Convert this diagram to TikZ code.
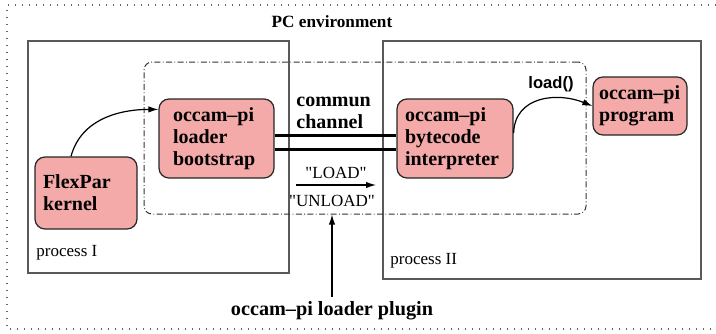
\documentclass[tikz,border=0pt]{standalone}
\usepackage{fontspec}
\setmainfont{Liberation Serif}[Ligatures=TeXOff]
\newfontfamily\sansfam{Liberation Sans}
\usetikzlibrary{arrows.meta}
\definecolor{boxpink}{RGB}{244,170,168}
\tikzset{
  unit/.style={draw=black!85, line width=0.6pt, fill=boxpink, rounded corners=5pt,
    align=left, inner ysep=2pt, font=\fontsize{10}{11}\selectfont\bfseries},
  procbox/.style={draw=black!65, line width=0.7pt},
  tip/.style={-{Latex[length=5pt,width=3.2pt]}, line width=0.6pt},
  lbl/.style={font=\fontsize{8.5}{10}\selectfont, inner sep=0pt},
  chan/.style={line width=1.5pt}
}
\begin{document}
\begin{tikzpicture}[x=0.5pt,y=-0.5pt]
\useasboundingbox (0,0) rectangle (716,333);

% outer environment frame (dotted)
\draw[black!60, line width=0.6pt, dash pattern=on 0.5pt off 3pt]
  (716,5) -- (7,5) -- (7,329) -- (716,329);
\node[font=\fontsize{8.6}{10}\selectfont\bfseries, anchor=base, inner sep=0pt] (env) at (332,27) {PC environment};

% the two processes
\draw[procbox] (28,41) rectangle (289,273);
\draw[procbox] (383,41) rectangle (701,279);
\node[lbl, anchor=base west] (p1) at (36,256) {process I};
\node[lbl, anchor=base west] (p2) at (390,264) {process II};

% loader plugin region (dash-dot)
\node[draw=black!80, line width=0.5pt, rounded corners=4pt,
      dash pattern=on 3pt off 1.2pt on 0.4pt off 1.2pt,
      minimum width=221pt, minimum height=76pt, inner sep=0pt] (plug) at (365,138) {};

% units
\node[unit, inner xsep=4pt, text width=43pt, minimum width=51pt, minimum height=36pt] (flex) at (86,193) {FlexPar\\kernel};
\node[unit, inner xsep=7pt, text width=43.5pt, minimum width=57.5pt, minimum height=39.5pt] (boot) at (216.5,138.5) {occam–pi\\loader\\bootstrap};
\node[unit, inner xsep=4pt, text width=50pt, minimum width=58pt, minimum height=39.5pt] (interp) at (455,138.5) {occam–pi\\bytecode\\interpreter};
\node[unit, inner xsep=3pt, text width=41pt, minimum width=47pt, minimum height=29pt] (prog) at (640,106) {occam–pi\\program};

% communication channel
\draw[chan] ([yshift=1.75pt]boot.east) -- ([yshift=1.75pt]interp.west);
\draw[chan] ([yshift=-5.25pt]boot.east) -- ([yshift=-5.25pt]interp.west);
\node[font=\fontsize{10}{11}\selectfont\bfseries, align=left, anchor=base west, inner sep=0pt] (chlbl) at (296,128) {commun\\channel};

% LOAD / UNLOAD messages
\coordinate (ls) at (296,185);
\coordinate (le) at (376,185);
\draw[tip] (ls) -- (le)
  node[lbl, midway, above=3pt] (ld) {"LOAD"}
  node[lbl, midway, below=5pt, xshift=-2pt] (uld) {"UNLOAD"};

% bootstrap and load() transitions
\draw[tip] ([xshift=-7.5pt]flex.north) to[out=75, in=180] ([yshift=-5.5pt]boot.north west);
\draw[tip] ([yshift=2.75pt]interp.east) to[out=88, in=158, looseness=1.15] (prog.west);
\node[font=\sansfam\fontsize{8.3}{10}\selectfont\bfseries, inner sep=0pt] (ldcall) at (551,84) {load()};

% plugin label
\node[font=\fontsize{10.1}{12}\selectfont\bfseries, anchor=base, inner sep=0pt] (plbl) at (332,315) {occam–pi loader plugin};
\draw[tip] ([yshift=2pt]plbl.north) -- (plbl.north |- plug.south);
\end{tikzpicture}
\end{document}
